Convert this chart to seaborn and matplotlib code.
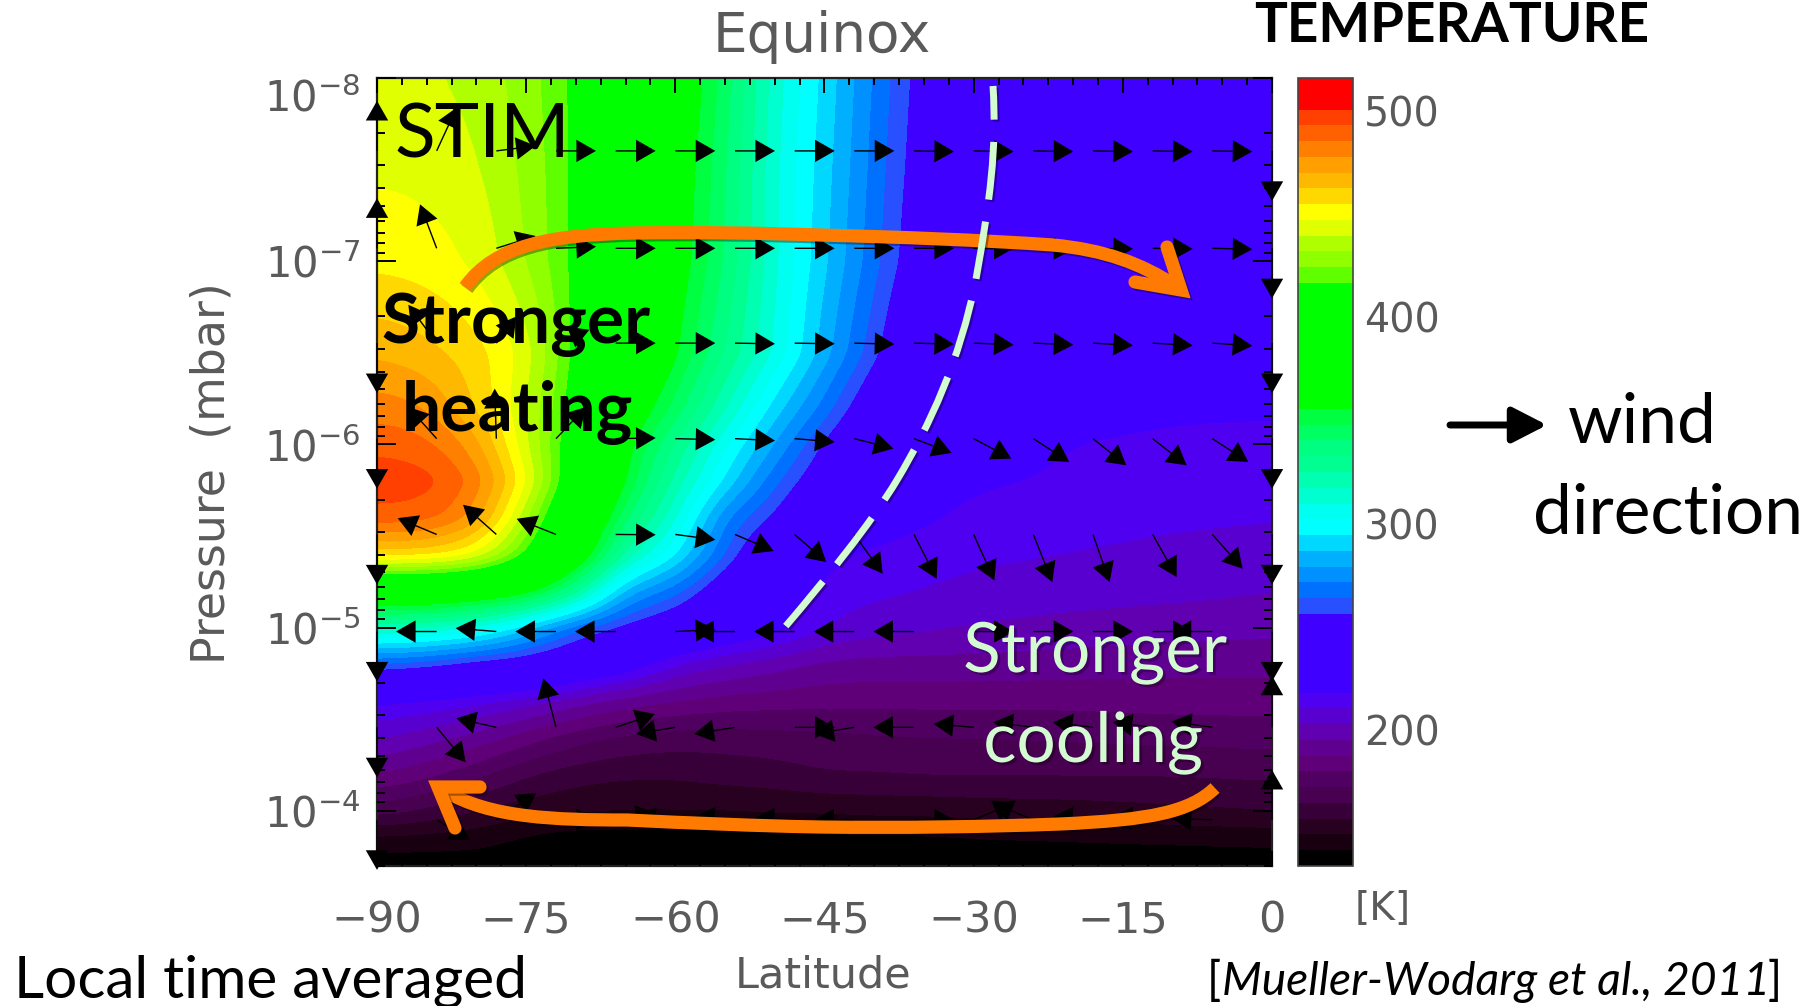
import matplotlib
matplotlib.use("Agg")
import matplotlib.pyplot as plt
import matplotlib.patheffects as pe
from matplotlib.colors import BoundaryNorm, ListedColormap
from matplotlib.patches import PathPatch
from matplotlib.path import Path
from matplotlib.ticker import AutoMinorLocator, LogLocator, NullFormatter
import numpy as np
import seaborn as sns

# temperature field (K), rows top to bottom
lat = [-90, -85, -80, -75, -70, -65, -60, -55, -50, -45, -40, -35, -30, -20, -10, 0]
log_p = [-8.0, -7.5, -7.0, -6.5, -6.2, -6.0, -5.8, -5.6, -5.4, -5.2, -5.0, -4.8,
         -4.6, -4.4, -4.2, -4.0, -3.85, -3.69]
temp = [
    [443, 441, 437, 428, 415, 390, 368, 345, 312, 292, 270, 250, 238, 230, 226, 224],
    [446, 445, 441, 430, 415, 390, 364, 342, 310, 290, 268, 248, 237, 229, 225, 223],
    [453, 451, 446, 432, 414, 390, 362, 340, 310, 288, 266, 245, 236, 228, 225, 222],
    [469, 465, 458, 445, 412, 385, 356, 332, 308, 282, 258, 235, 224, 220, 219, 219],
    [482, 478, 462, 440, 410, 368, 345, 318, 290, 268, 243, 226, 222, 220, 219, 219],
    [491, 488, 474, 441, 405, 358, 332, 303, 278, 254, 232, 225, 221, 218, 217, 216],
    [498, 497, 484, 449, 400, 353, 322, 292, 265, 245, 228, 222, 219, 217, 215, 214],
    [490, 489, 476, 434, 385, 340, 312, 270, 254, 232, 224, 219, 216, 214, 212, 211],
    [458, 458, 448, 415, 372, 320, 296, 262, 236, 220, 216, 214, 212, 210, 208, 206],
    [380, 378, 372, 362, 330, 280, 268, 242, 228, 214, 212, 210, 208, 206, 205, 203],
    [318, 316, 308, 288, 265, 252, 242, 230, 222, 210, 206, 204, 202, 200, 198, 197],
    [262, 258, 250, 246, 236, 226, 209, 203, 198, 193, 192, 192, 192, 191, 190, 190],
    [219, 216, 212, 206, 198, 191, 187, 184, 183, 182, 182, 182, 182, 182, 183, 183],
    [204, 198, 192, 183, 175, 170, 168, 168, 169, 170, 171, 172, 172, 173, 174, 175],
    [187, 182, 174, 165, 160, 158, 158, 160, 161, 164, 164, 165, 165, 165, 165, 166],
    [168, 163, 156, 152, 150, 149, 149, 149, 150, 150, 151, 151, 152, 153, 155, 157],
    [147, 146, 145, 140, 137, 138, 138, 138, 139, 139, 140, 140, 141, 142, 143, 144],
    [136, 136, 136, 136, 136, 136, 136, 136, 136, 136, 136, 136, 136, 136, 136, 136],
]

# wind arrows, tail position and components (tail to tip in picture units)
wind_lat = [-90, -84, -78, -72, -66, -60, -54, -48, -42, -36, -30, -24, -18, -12, -6, 0]
wind_p = [2.5e-8, 8.5e-8, 2.8e-7, 9.3e-7, 3.1e-6, 1.05e-5, 3.5e-5, 1.12e-4]
wind_u = [
    [0, 60, 118, 120, 120, 120, 120, 120, 120, 120, 120, 120, 120, 120, 120, 0],
    [0, -50, 118, 120, 120, 120, 120, 120, 120, 120, 120, 120, 120, 120, 120, 0],
    [0, -85, 60, 100, 120, 120, 120, 120, 120, 120, 120, 120, 120, 120, 120, 0],
    [0, -85, -5, 90, 120, 120, 120, 120, 117, 113, 113, 108, 100, 102, 108, 0],
    [0, -117, -100, -118, 120, 120, 116, 95, 85, 68, 62, 57, 50, 72, 91, 0],
    [0, -122, -122, -122, -122, 120, -122, -122, -122, -122, 120, 120, 120, 120, -122, 0],
    [0, 87, -120, -38, 118, -118, -122, 120, -120, -122, -120, -120, -120, -120, -122, 0],
    [0, 100, 120, 120, 120, -118, -120, -120, -120, 120, 120, -120, -120, -120, -122, 0],
]
wind_v = [
    [150, 130, 15, 0, 0, 0, 0, 0, 0, -2, -2, -2, -2, -2, -2, -150],
    [150, 132, 37, 5, 0, 0, 0, 0, 0, 0, 0, -2, -2, -2, -3, -150],
    [-150, 115, 80, 40, 0, 0, -2, -2, -3, -3, -5, -5, -7, -7, -8, -150],
    [-150, 95, 150, 95, 2, -3, -6, -10, -30, -43, -60, -70, -80, -80, -70, -150],
    [-150, 49, 89, 47, -1, -16, -50, -83, -118, -133, -138, -143, -143, -128, -103, -150],
    [-150, 0, 10, 0, 0, 6, 0, 0, 0, 0, 0, 0, 0, 0, 0, -150],
    [-150, -105, 27, 147, 40, -20, -20, 0, -20, 0, 10, 15, 15, 15, 17, 155],
    [-150, -60, 80, 0, 20, 10, 10, 5, 0, 0, 50, 50, 10, 10, 5, 150],
]

x_ticks = [-90, -75, -60, -45, -30, -15, 0]
cbar_ticks = [200, 300, 400, 500]

# one colour per contour band, coldest first
band_colors = [
    "#000000", "#180010", "#280020", "#380038", "#480050", "#500060", "#600078",
    "#600090", "#6000B0", "#5800D0", "#5000F0", "#4000FF", "#4000FF", "#4000FF",
    "#4000FF", "#4000FF", "#2850FF", "#0070FF", "#0090FF", "#00B0FF", "#00D8FF",
    "#00FFFF", "#00FFF0", "#00FFD0", "#00FFB0", "#00FF90", "#00FF80", "#00FF60",
    "#00FF40", "#00FF00", "#00FF00", "#00FF00", "#00FF00", "#00FF00", "#00FF00",
    "#00FF00", "#00FF00", "#60FF00", "#90FF00", "#B0FF00", "#E0FF00", "#FFFF00",
    "#FFD800", "#FFB800", "#FFA000", "#FF8000", "#FF6000", "#FF4000", "#FF0000",
    "#FF0000",
]

# overlay drawings, bezier control points in pixels of the 1815x1006 picture
top_arc = [(465, 287), (495, 245), (550, 235), (633, 233), (700, 232), (760, 233), (820, 235),
           (900, 237), (980, 240), (1053, 245), (1105, 250), (1140, 263), (1176, 286)]
top_barbs = [(1167, 247), (1181, 290), (1135, 282)]
low_arc = [(1215, 788), (1190, 812), (1150, 820), (1060, 824), (980, 827), (900, 828), (820, 827),
           (760, 826), (690, 823), (627, 820), (555, 820), (490, 818), (445, 791)]
low_barbs = [(455, 828), (438, 787), (480, 787)]
dash_line = [(993, 86), (997, 150), (990, 200), (976, 279), (960, 360), (930, 425), (897, 480),
             (870, 525), (825, 580), (785, 627)]


def curve(points):
    codes = [Path.MOVETO] + [Path.CURVE4] * (len(points) - 1)
    return Path(points, codes)


def box_smooth(values, window, axis):
    kernel = np.ones(window) / window
    pad = window // 2

    def run(line):
        return np.convolve(np.pad(line, pad, mode="edge"), kernel, mode="valid")
    return np.apply_along_axis(run, axis, values)


sns.set_theme(style="ticks")
plt.rcParams["font.family"] = ["Lato", "DejaVu Sans"]
plt.rcParams["mathtext.default"] = "regular"

GREY = "#5a5a5a"
ORANGE = "#FF7A00"
PALE = "#D2FBD2"
PLOT_FONT = "DejaVu Sans"
W, H = 1815, 1006

fig = plt.figure(figsize=(W / 100, H / 100), dpi=100, facecolor="white")
ax = fig.add_axes([377 / W, 1 - 866 / H, 895 / W, 788 / H])
cax = fig.add_axes([1298 / W, 1 - 866 / H, 55 / W, 788 / H])

# resample the read values on log pressure so the bands run smooth
fine_lat = np.arange(-90, 0.25, 0.5)
fine_logp = np.arange(-8, -3.685, 0.01)
temp_arr = np.array(temp, dtype=float)
by_row = np.array([np.interp(fine_lat, lat, row) for row in temp_arr])
fine = np.array([np.interp(fine_logp, log_p, col) for col in by_row.T]).T
for _ in range(2):
    fine = box_smooth(fine, 9, 1)
    fine = box_smooth(fine, 9, 0)

levels = np.linspace(134, 516, 51)
cmap = ListedColormap(sns.color_palette(band_colors))
norm = BoundaryNorm(levels, len(band_colors))
cf = ax.contourf(fine_lat, 10.0 ** fine_logp, fine, levels=levels, cmap=cmap, norm=norm)
cf.set_edgecolor("face")
cf.set_linewidth(0.5)

ax.set_yscale("log")
ax.set_xlim(-90, 0)
ax.set_ylim(2e-4, 1e-8)
ax.set_axisbelow(False)  # seaborn's theme would hide the inward ticks under the contours
ax.set_xticks(x_ticks)
ax.xaxis.set_minor_locator(AutoMinorLocator(6))
ax.yaxis.set_major_locator(LogLocator(base=10, numticks=12))
ax.yaxis.set_minor_locator(LogLocator(base=10, subs=np.arange(2, 10), numticks=12))
ax.yaxis.set_minor_formatter(NullFormatter())
ax.tick_params(axis="x", which="major", direction="in", top=True, bottom=True, length=11, width=1.4,
               color="black", labelsize=31, labelcolor=GREY, pad=24, labelfontfamily=PLOT_FONT)
ax.tick_params(axis="x", which="minor", direction="in", top=True, bottom=True, length=5, width=1.4, color="black")
ax.tick_params(axis="y", which="major", direction="in", left=True, right=True, length=14, width=1.4,
               color="black", labelsize=30, labelcolor=GREY, pad=12, labelfontfamily=PLOT_FONT)
ax.tick_params(axis="y", which="minor", direction="in", left=True, right=True, length=6, width=1.4, color="black")
sns.despine(ax=ax, top=False, right=False)
for side in ax.spines.values():
    side.set_linewidth(1.6)
    side.set_color("#222222")

# equal length arrows, tails on the wind grid
xx, yy = np.meshgrid(wind_lat, wind_p)
ax.quiver(xx, yy, wind_u, wind_v, units="dots", width=1.4, scale_units="dots", scale=3, angles="uv",
          headwidth=16, headlength=14, headaxislength=14, color="black", clip_on=False, zorder=5)

cbar = fig.colorbar(cf, cax=cax, ticks=cbar_ticks, spacing="proportional", drawedges=False)
cbar.ax.minorticks_off()
cbar.ax.tick_params(length=0, labelsize=28.5, labelcolor=GREY, pad=8, labelfontfamily=PLOT_FONT)
cbar.outline.set_edgecolor("#444444")
cbar.outline.set_linewidth(1.2)

# the top label sits under its tick in the reference
fig.canvas.draw()
for tick in ax.yaxis.get_major_ticks():
    if "-8" in tick.label1.get_text() or "\u22128" in tick.label1.get_text():
        tick.label1.set_va("top")

# overlay in picture pixels for the slide annotations
over = fig.add_axes([0, 0, 1, 1], facecolor="none", zorder=10)
over.set_xlim(0, W)
over.set_ylim(H, 0)
over.axis("off")

soft = [pe.SimpleLineShadow(offset=(1.5, -1.5), alpha=0.35, shadow_color="black"), pe.Normal()]

for arc, barbs in [(top_arc, top_barbs), (low_arc, low_barbs)]:
    over.add_patch(PathPatch(curve(arc), facecolor="none", edgecolor=ORANGE, lw=9.5, capstyle="butt", path_effects=soft))
    over.plot(*zip(*barbs), color=ORANGE, lw=9.5, solid_capstyle="round", solid_joinstyle="miter", path_effects=soft)

over.add_patch(PathPatch(curve(dash_line), facecolor="none", edgecolor=PALE, lw=5, capstyle="butt",
                         linestyle=(3.5, (8.35, 3.2)), path_effects=soft))

over.annotate("", xy=(1547, 425), xytext=(1450, 425),
              arrowprops=dict(arrowstyle="-|>,head_length=0.7,head_width=0.36", color="black", lw=5,
                              shrinkA=0, shrinkB=0, mutation_scale=30))

over.text(822, 37, "Equinox", fontsize=39.5, color=GREY, ha="center", va="center", family=PLOT_FONT)
over.text(823, 976, "Latitude", fontsize=31, color=GREY, ha="center", va="center", family=PLOT_FONT)
over.text(212, 473, "Pressure  (mbar)", fontsize=33, color=GREY, ha="center", va="center", rotation=90, family=PLOT_FONT)
over.text(1383, 909, "[K]", fontsize=28, color=GREY, ha="center", va="center", family=PLOT_FONT)

over.text(395, 157, "STIM", fontsize=54, color="black", ha="left", va="baseline")
over.text(516, 343, "Stronger", fontsize=50, color="black", ha="center", va="baseline", weight="bold")
over.text(517, 431, "heating", fontsize=50, color="black", ha="center", va="baseline", weight="bold")

glow = [pe.withSimplePatchShadow(offset=(2, -2), alpha=0.3, shadow_rgbFace="black")]
over.text(1095, 672, "Stronger", fontsize=50, color=PALE, ha="center", va="baseline", path_effects=glow)
over.text(1093, 762, "cooling", fontsize=50, color=PALE, ha="center", va="baseline", path_effects=glow)

over.text(1452, 42, "TEMPERATURE", fontsize=39.5, color="black", ha="center", va="baseline", weight="bold", clip_on=False)
over.text(1642, 443, "wind", fontsize=50, color="black", ha="center", va="baseline")
over.text(1668, 533, "direction", fontsize=50, color="black", ha="center", va="baseline")
over.text(14, 998, "Local time averaged", fontsize=42.2, color="black", ha="left", va="baseline")
over.text(1207, 995, "[", fontsize=33.2, color="black", ha="left", va="baseline")
over.text(1222, 995, "Mueller-Wodarg et al., 2011", fontsize=33.2, color="black", ha="left", va="baseline", style="italic")
over.text(1782, 995, "]", fontsize=33.2, color="black", ha="right", va="baseline")

fig.savefig("out.png", dpi=100, facecolor="white")
